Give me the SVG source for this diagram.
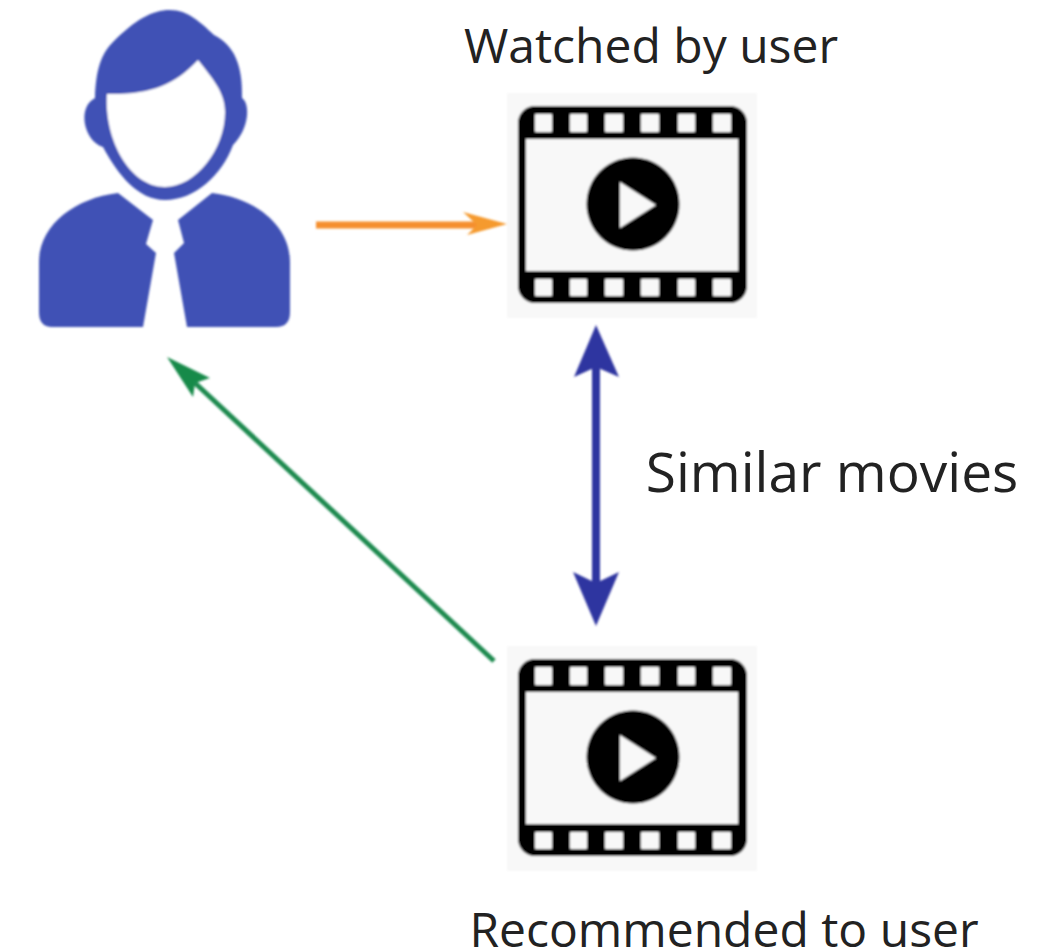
<svg xmlns="http://www.w3.org/2000/svg" width="1042" height="951" viewBox="0 0 1042 951">
<style>
.lbl{font-family:"Open Sans","Noto Sans",sans-serif;fill:#222;}
.bg{fill:#f8f8f8;}
.blk{fill:#000;}
.hole{fill:#f8f8f8;}
.person{fill:#3f51b5;}
</style>
<defs>
<filter id="soft" x="-5%" y="-5%" width="110%" height="110%"><feGaussianBlur stdDeviation="0.8"/></filter>
<g id="film">
<rect class="bg" x="507" y="93" width="250" height="225"/>
<rect class="blk" x="518" y="106" width="229" height="197" rx="17"/>
<rect class="hole" x="526" y="139" width="212" height="132"/>
<g class="hole">
<rect x="535" y="114" width="17" height="18" rx="1"/><rect x="570" y="114" width="17" height="18" rx="1"/><rect x="605" y="114" width="18" height="18" rx="1"/><rect x="641" y="114" width="18" height="18" rx="1"/><rect x="678" y="114" width="17" height="18" rx="1"/><rect x="713" y="114" width="18" height="18" rx="1"/>
<rect x="535" y="279" width="17" height="17" rx="1"/><rect x="570" y="279" width="17" height="17" rx="1"/><rect x="605" y="279" width="18" height="17" rx="1"/><rect x="641" y="279" width="18" height="17" rx="1"/><rect x="678" y="279" width="17" height="17" rx="1"/><rect x="713" y="279" width="18" height="17" rx="1"/>
</g>
<circle class="blk" cx="633" cy="204" r="46.5"/>
<polygon class="hole" points="620,182 620,228 656,205"/>
</g>
</defs>
<rect width="1042" height="951" fill="#fff"/>
<g id="user" filter="url(#soft)">
<path class="person" d="M95,97 C96,72 100,55 113,42 C135,20 152,10 170,10 C188,10 200,22 214,35 C234,45 243,65 242,98 C250,103 250,128 233,145 C222,175 195,200 165,200 C138,200 118,175 103,147 C85,142 76,108 95,98 Z"/>
<path fill="#fff" d="M107,94 C150,95 175,85 198,60 C212,78 225,92 225,112 C225,150 195,187 165,187 C130,187 104,140 107,94 Z"/>
<path class="person" d="M118,193 L153,220 L146,244 L156,253 L143,327 L52,327 Q39,327 39,312 L39,262 C39,225 75,198 118,193 Z"/>
<path class="person" d="M212,193 L178,220 L184,243 L174,253 L187,327 L276,327 Q290,327 290,312 L290,262 C290,225 255,198 212,193 Z"/>
</g>
<g id="watched">
<use href="#film" filter="url(#soft)"/>
<text class="lbl" x="651" y="63" font-size="48" text-anchor="middle">Watched by user</text>
</g>
<g id="recommended">
<use href="#film" y="553" filter="url(#soft)"/>
<text class="lbl" x="724" y="947" font-size="48" text-anchor="middle">Recommended to user</text>
</g>
<g id="connectors" filter="url(#soft)">
<path d="M316,225 H490" stroke="#f58f2e" stroke-width="7" fill="none"/>
<polygon points="507,224 463,212 477,225 467,235" fill="#f59a2e"/>
<path d="M494,661 L195,383" stroke="#1f8a50" stroke-width="5" fill="none"/>
<polygon points="167,357 210,378 195,383 193,397" fill="#178a4a"/>
<path d="M596,360 V590" stroke="#2f35a0" stroke-width="8" fill="none"/>
<polygon points="596,325 619,377 596,367 574,377" fill="#2f35a0"/>
<polygon points="596,626 619,572 596,583 573,572" fill="#2f35a0"/>
</g>
<text class="lbl" id="edge-label" x="832" y="492" font-size="55" text-anchor="middle">Similar movies</text>
</svg>
